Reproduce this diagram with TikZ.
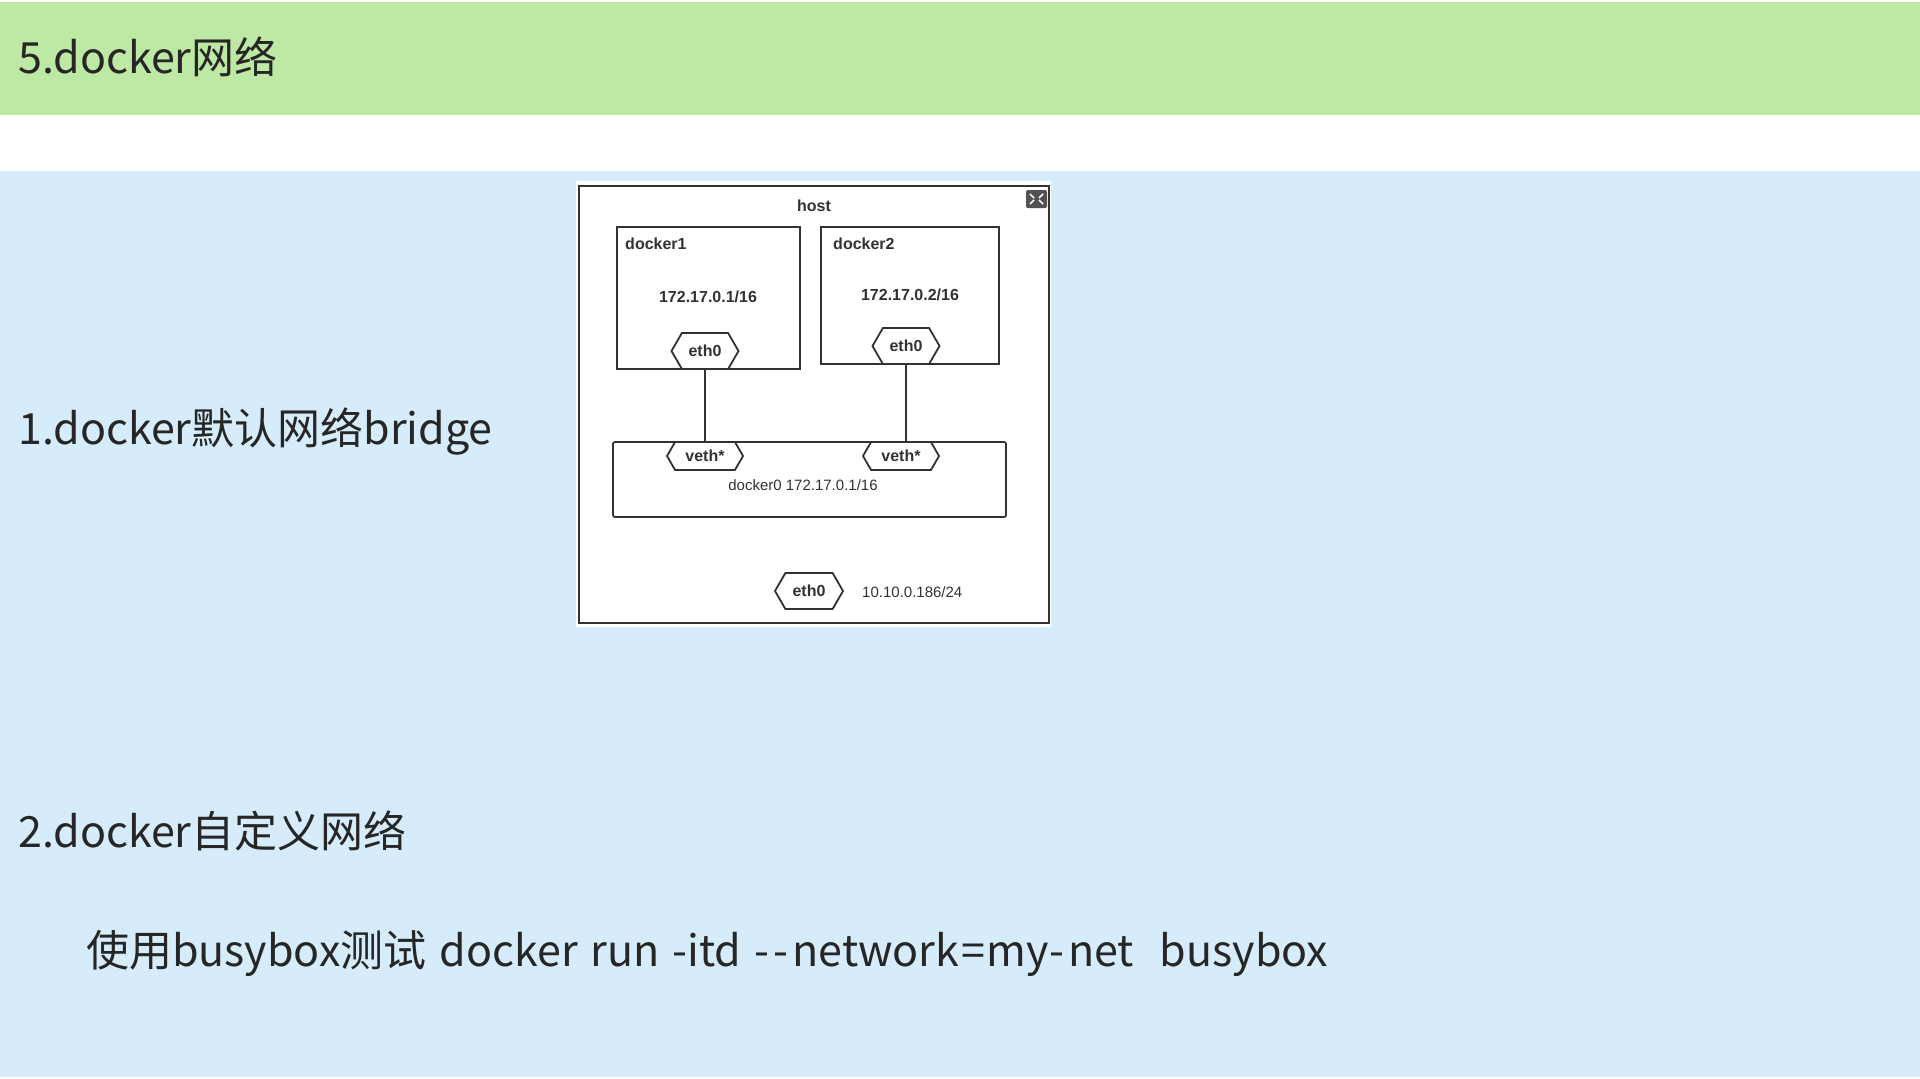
\documentclass[tikz,border=0pt]{standalone}
\usepackage{fontspec}
\usepackage{tikz}
\usetikzlibrary{shapes.symbols}
\setmainfont{Noto Sans CJK SC}
\newfontfamily\diagfont{Liberation Sans}
\definecolor{headgreen}{RGB}{190,233,165}
\definecolor{bodyblue}{RGB}{214,236,250}
\definecolor{inkgray}{RGB}{50,50,50}
\newcommand{\ztbigfont}{\fontsize{43}{50}\selectfont}
\newcommand{\ztsmallfont}{\fontsize{16}{19}\selectfont}

\begin{document}
\begin{tikzpicture}[x=1pt,y=-1pt]
\useasboundingbox (0,0) rectangle (1920,1079);
\fill[white] (0,0) rectangle (1920,1079);
\fill[headgreen] (0,2) rectangle (1920,115);
\fill[bodyblue] (0,171) rectangle (1920,1077);
% slide texts
\begin{scope}
\tikzstyle{every node}=[anchor=west,inner sep=0pt,text=black!85,font=\ztbigfont]
\node (title) at (18,57) {5.docker网络};
\node (item1) at (18,432) {1.docker默认网络bridge};
\node (item2) at (18,831) {2.docker自定义网络};
\node (cmd) at (86,953) {\spaceskip=13pt 使用busybox测试 docker run -itd -\kern4pt{}-\kern4pt network\kern2pt=\kern2pt my-\kern4pt net\ \ busybox};
\end{scope}
% network picture
\fill[white] (576,181) rectangle (1051,627);
\begin{scope}[draw=inkgray,line width=1.8pt]
\tikzstyle{every node}=[text=inkgray,font=\diagfont\bfseries\ztsmallfont]
\tikzstyle{hex}=[draw,fill=white,shape=signal,signal to=east and west,signal pointer angle=120,inner sep=0pt]
\node[draw,minimum width=470,minimum height=437,line width=2.2pt] (host) at (814,404.5) {};
\node (hostlabel) at (814,206) {host};
\node[draw,minimum width=183,minimum height=142] (docker1) at (708.5,298) {};
\node[draw,minimum width=178,minimum height=137] (docker2) at (910,295.5) {};
\node[anchor=west] (d1label) at (621,244) {docker1};
\node[anchor=west] (d2label) at (829,244) {docker2};
\node (ip1) at (708,297) {172.17.0.1/16};
\node (ip2) at (910,295) {172.17.0.2/16};
\node[hex,minimum width=67,minimum height=36] (eth1) at (705,351) {eth0};
\node[hex,minimum width=67,minimum height=36] (eth2) at (906,346) {eth0};
\node[draw,rounded corners=2,minimum width=393,minimum height=75] (docker0) at (809.5,479.5) {};
\node[hex,minimum width=76,minimum height=28] (veth1) at (705,456) {veth*};
\node[hex,minimum width=76,minimum height=28] (veth2) at (901,456) {veth*};
\node[font=\diagfont\fontsize{15}{18}\selectfont] (br) at (803,485) {docker0 172.17.0.1/16};
\node[hex,minimum width=68,minimum height=36] (eth3) at (809,591) {eth0};
\node[anchor=west,font=\diagfont\fontsize{15}{18}\selectfont] (hostip) at (858,592) {10.10.0.186/24};
\draw [-] (eth1.south) -- (veth1.north);
\draw [-] (eth2.south) -- (eth2.south |- veth2.north);
\end{scope}
% expand icon
\fill[inkgray!85,rounded corners=2] (1026,190) rectangle (1047,208);
\draw[white,line width=1.5pt] (1030,194) -- (1034,198) (1043,194) -- (1039,198)
  (1030,204) -- (1034,200) (1043,204) -- (1039,200);
\end{tikzpicture}
\end{document}
